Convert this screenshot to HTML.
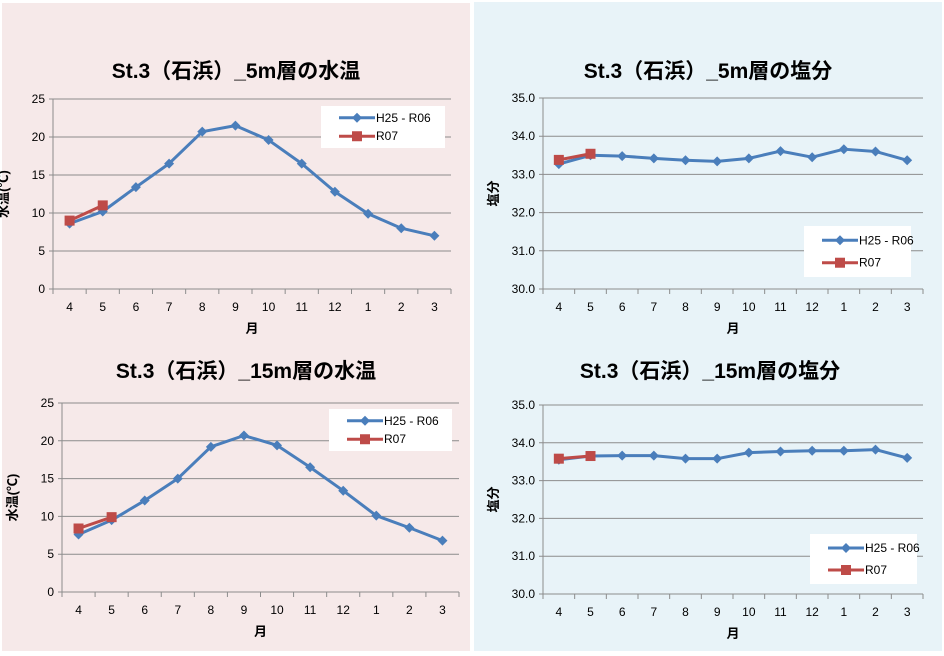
<!DOCTYPE html>
<html><head><meta charset="utf-8"><style>
body{margin:0;background:#fff;width:944px;height:651px;overflow:hidden}
svg text{font-family:"Liberation Sans","Noto Sans CJK JP",sans-serif}
</style></head><body>
<svg id="s" width="944" height="651" xmlns="http://www.w3.org/2000/svg">
<rect x="2" y="3" width="468" height="648" fill="#f6e9e9"/>
<rect x="474" y="2" width="468" height="649" fill="#e8f3f8"/>
</svg>
<script>
const months=["4","5","6","7","8","9","10","11","12","1","2","3"];
const t5Hist=[8.6,10.2,13.4,16.5,20.7,21.5,19.6,16.5,12.8,9.9,8.0,7.0];
const t5R07=[9.0,11.0];
const s5Hist=[33.27,33.5,33.48,33.42,33.37,33.34,33.42,33.61,33.45,33.66,33.6,33.37];
const s5R07=[33.38,33.54];
const t15Hist=[7.6,9.5,12.1,15.0,19.2,20.7,19.4,16.5,13.4,10.1,8.5,6.8];
const t15R07=[8.4,9.9];
const s15Hist=[33.55,33.65,33.66,33.66,33.58,33.58,33.74,33.77,33.79,33.79,33.82,33.6];
const s15R07=[33.58,33.65];
const tempTicks=[0,5,10,15,20,25];
const salTicks=[30,31,32,33,34,35];
const NS="http://www.w3.org/2000/svg";
const svg=document.getElementById('s');
function mk(tag,attrs,parent){const e=document.createElementNS(NS,tag);for(const k in attrs)e.setAttribute(k,attrs[k]);(parent||svg).appendChild(e);return e;}
function chart(o){
  const g=mk('g',{});
  
  
  const yMin=o.ticks[0],yMax=o.ticks[o.ticks.length-1];
  const Y=v=>o.y1-(v-yMin)/(yMax-yMin)*(o.y1-o.y0);
  const bw=(o.x1-o.x0)/months.length;
  const X=i=>o.x0+bw*(i+0.5);
  const t=mk('text',{x:o.tx,y:o.ty,'text-anchor':'middle','font-size':21,'font-weight':'bold',fill:'#000'},g);
  t.textContent=o.title;
  
  
  o.ticks.forEach(v=>{
    const l=mk('line',{x1:o.x0-4,x2:o.x1,y1:Y(v),y2:Y(v),stroke:'#8c8c8c','stroke-width':1},g);
    
    
    const tx=mk('text',{x:o.x0-8,y:Y(v)+4,'text-anchor':'end','font-size':12,fill:'#000'},g);
    tx.textContent=o.dec?v.toFixed(1):String(v);
    
    
  });
  const ax=mk('line',{x1:o.x0,x2:o.x0,y1:o.y0,y2:o.y1,stroke:'#8c8c8c'},g);
  
  
  for(let i=0;i<=months.length;i++){
    const tk=mk('line',{x1:o.x0+bw*i,x2:o.x0+bw*i,y1:o.y1,y2:o.y1+5,stroke:'#8c8c8c'},g);
    
    
  }
  months.forEach((m,i)=>{
    const tx=mk('text',{x:X(i),y:o.y1+22,'text-anchor':'middle','font-size':12,fill:'#000'},g);
    tx.textContent=m;
    
    
  });
  const xt=mk('text',{x:(o.x0+o.x1)/2,y:o.y1+44,'text-anchor':'middle','font-size':13,'font-weight':'bold'},g);
  xt.textContent='月';
  
  
  const ycx=o.x0-45,ycy=(o.y0+o.y1)/2;
  const yt=mk('text',{x:ycx,y:ycy,'text-anchor':'middle','font-size':13,'font-weight':'bold',transform:`rotate(-90 ${ycx} ${ycy})`},g);
  yt.textContent=o.ylab;
  
  
  function series(vals,color,sq,nm){
    const p=mk('polyline',{points:vals.map((v,i)=>X(i)+','+Y(v)).join(' '),fill:'none',stroke:color,'stroke-width':3,'stroke-linejoin':'round'},g);
    
    
    vals.forEach((v,i)=>{
      const x=X(i),y=Y(v);
      const mkr=sq?mk('rect',{x:x-5,y:y-5,width:10,height:10,fill:color},g):mk('polygon',{points:`${x},${y-5} ${x+5},${y} ${x},${y+5} ${x-5},${y}`,fill:color},g);
      
      
    });
  }
  series(o.hist,'#4a7ebb',false,'h25-r06');
  series(o.r07,'#be4b48',true,'r07');
  const lg=mk('g',{},g);
  
  
  const L=o.leg;
  mk('rect',{x:L[0],y:L[1],width:L[2],height:L[3],fill:'#fff'},lg);
  [['H25 - R06','#4a7ebb',false],['R07','#be4b48',true]].forEach((e,k)=>{
    const yy=L[1]+L[3]*(k?0.72:0.28);
    const lx=L[0]+18;
    const en=mk('g',{},lg);
    
    
    mk('line',{x1:lx,x2:lx+36,y1:yy,y2:yy,stroke:e[1],'stroke-width':3},en);
    if(e[2])mk('rect',{x:lx+13,y:yy-5,width:10,height:10,fill:e[1]},en);
    else mk('polygon',{points:`${lx+18},${yy-5} ${lx+23},${yy} ${lx+18},${yy+5} ${lx+13},${yy}`,fill:e[1]},en);
    const tx=mk('text',{x:lx+37,y:yy+4,'font-size':12},en);
    tx.textContent=e[0];
  });
}
chart({name:'chart-temp-5m',title:'St.3（石浜）_5m層の水温',tx:236,ty:78,x0:53,x1:451,y0:99,y1:289,ticks:tempTicks,dec:false,ylab:'水温(℃)',hist:t5Hist,r07:t5R07,leg:[321,106,124,42]});
chart({name:'chart-sal-5m',title:'St.3（石浜）_5m層の塩分',tx:708,ty:78,x0:543,x1:923,y0:98,y1:289,ticks:salTicks,dec:true,ylab:'塩分',hist:s5Hist,r07:s5R07,leg:[804,226,107,51]});
chart({name:'chart-temp-15m',title:'St.3（石浜）_15m層の水温',tx:246,ty:378,x0:62,x1:459,y0:403,y1:592,ticks:tempTicks,dec:false,ylab:'水温(℃)',hist:t15Hist,r07:t15R07,leg:[329,409,123,42]});
chart({name:'chart-sal-15m',title:'St.3（石浜）_15m層の塩分',tx:710,ty:378,x0:543,x1:923,y0:405,y1:594,ticks:salTicks,dec:true,ylab:'塩分',hist:s15Hist,r07:s15R07,leg:[810,534,107,50]});
</script>
</body></html>
